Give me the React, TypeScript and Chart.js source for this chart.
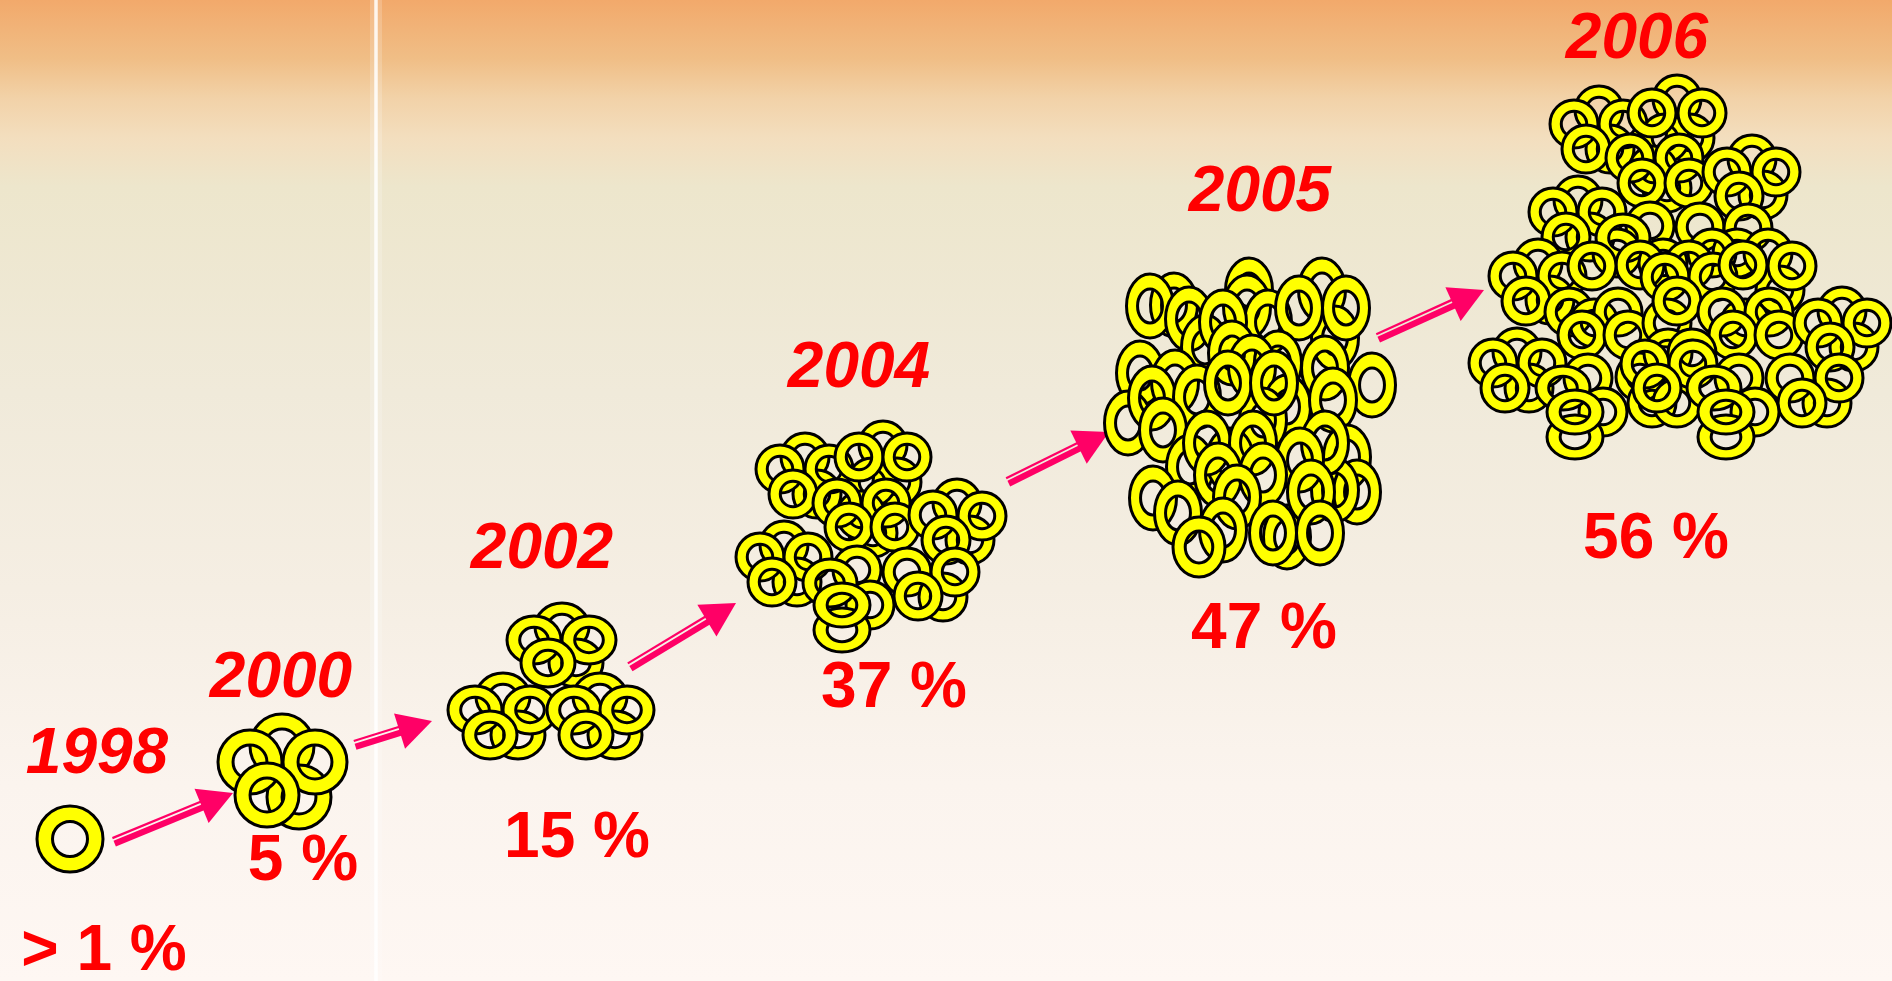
import React, { useEffect, useRef } from "react";
import { Chart, registerables } from "chart.js";

Chart.register(...registerables);

type R = number[]; // x, y, optional half-width, optional half-height

const years = ["1998", "2000", "2002", "2004", "2005", "2006"];
const yearX = [97, 281, 542, 859, 1260, 1637];
const yearY = [773, 697, 568, 387, 211, 58];
const shares = ["> 1 %", "5 %", "15 %", "37 %", "47 %", "56 %"];
const shareX = [104, 303, 577, 894, 1264, 1656];
const shareY = [970, 880, 857, 707, 648, 558];

const rings1998: R[] = [[70, 839]];
const rings2000: R[] = [[282, 746], [299, 797], [250, 762], [315, 762], [267, 795]];
const rings2002: R[] = [
  [562, 627], [576, 663], [534, 640], [589, 640], [548, 663],
  [503, 697], [518, 735], [475, 710], [530, 710], [490, 735],
  [600, 697], [615, 735], [574, 710], [627, 710], [586, 735],
];
const rings2004: R[] = [
  [805, 457], [817, 494], [780, 469], [829, 469], [793, 494],
  [883, 445], [897, 482], [872, 482], [859, 457], [907, 457],
  [873, 533], [861, 515], [837, 503], [886, 503], [849, 527], [895, 527],
  [957, 503], [970, 540], [933, 515], [982, 516], [946, 540],
  [784, 545], [797, 582], [760, 557], [808, 557], [772, 582],
  [857, 570], [907, 572], [943, 597], [955, 572], [918, 596],
  [870, 605], [830, 583, 27, 24], [842, 630, 28, 22], [842, 605, 28, 22],
];
const rings2005: R[] = [
  [1174, 305], [1249, 290], [1322, 290], [1247, 307], [1150, 306],
  [1189, 319], [1205, 347], [1268, 322], [1223, 322], [1335, 338],
  [1299, 308], [1346, 308], [1372, 385], [1140, 373], [1232, 353],
  [1278, 363], [1252, 367], [1325, 368], [1175, 382], [1128, 423],
  [1152, 398], [1197, 397], [1287, 407], [1263, 420], [1333, 400],
  [1163, 430], [1228, 383], [1274, 383], [1347, 457], [1357, 492],
  [1335, 490], [1190, 467], [1230, 460], [1207, 443], [1325, 443],
  [1300, 460], [1253, 443], [1218, 475], [1263, 475], [1153, 498],
  [1287, 537], [1237, 497], [1223, 530], [1178, 513], [1311, 492],
  [1273, 533], [1320, 533], [1199, 547, 26, 30],
];
const rings2006: R[] = [
  [1599, 110], [1610, 149], [1574, 124], [1623, 124], [1586, 149],
  [1677, 99], [1690, 138], [1665, 138], [1652, 113], [1702, 113],
  [1667, 188], [1653, 170], [1630, 158], [1679, 158], [1642, 183], [1689, 183],
  [1752, 159], [1763, 195], [1727, 172], [1776, 172], [1739, 196],
  [1578, 200], [1590, 237], [1553, 212], [1602, 212], [1566, 237],
  [1650, 226], [1700, 227], [1748, 228], [1737, 253], [1712, 253],
  [1617, 253], [1623, 238, 27, 24],
  [1538, 263], [1550, 300], [1513, 276], [1562, 276], [1526, 301],
  [1663, 263], [1689, 265], [1768, 253], [1780, 290], [1640, 265],
  [1665, 277], [1713, 277], [1743, 265], [1792, 266], [1592, 266],
  [1569, 312], [1594, 323], [1618, 312], [1582, 335], [1628, 335],
  [1667, 323], [1677, 301],
  [1745, 323], [1722, 312], [1769, 312], [1733, 335], [1779, 335],
  [1842, 311], [1854, 347], [1818, 323], [1867, 323], [1830, 347],
  [1517, 352], [1529, 388], [1493, 363], [1542, 363], [1505, 388],
  [1588, 378], [1603, 412], [1575, 437, 28, 22], [1563, 388, 27, 22], [1575, 412, 28, 22],
  [1640, 377], [1652, 403], [1677, 403], [1668, 353], [1692, 353],
  [1645, 364], [1693, 364], [1657, 388],
  [1739, 378], [1827, 403], [1790, 378], [1839, 378], [1802, 403],
  [1755, 412], [1726, 437, 28, 22], [1714, 388, 27, 22], [1726, 412, 28, 22],
];

const arrowTails = [[114, 842], [355, 745], [630, 667], [1008, 482], [1378, 338]];
const arrowTips = [[233, 793], [432, 721], [736, 603], [1109, 432], [1484, 290]];

const dividerX = [376, 376];
const dividerY = [0, 981];

const ringSets: { rows: R[]; rx: number; ry: number }[] = [
  { rows: rings1998, rx: 33, ry: 33 },
  { rows: rings2000, rx: 32, ry: 32 },
  { rows: rings2002, rx: 27, ry: 24 },
  { rows: rings2004, rx: 24, ry: 24 },
  { rows: rings2005, rx: 23.5, ry: 32 },
  { rows: rings2006, rx: 24, ry: 24 },
];

const stops: [number, string][] = [
  [0, "#F2A96B"], [0.06, "#F0BE86"], [0.1, "#F2D2A8"], [0.14, "#F3DEBE"],
  [0.19, "#EDE6CC"], [0.4, "#F0EADA"], [0.6, "#F5EEE3"], [0.8, "#FBF4EE"], [1, "#FEF7F3"],
];

const ringImages = new Map<string, HTMLCanvasElement>();
function ringImage(rx: number, ry: number) {
  const key = rx + "x" + ry;
  const hit = ringImages.get(key);
  if (hit) return hit;
  const c = document.createElement("canvas");
  c.width = Math.ceil(rx) * 2 + 6;
  c.height = Math.ceil(ry) * 2 + 6;
  const g = c.getContext("2d")!;
  const cx = c.width / 2;
  const cy = c.height / 2;
  g.beginPath();
  g.ellipse(cx, cy, rx, ry, 0, 0, Math.PI * 2);
  g.moveTo(cx + rx * 0.53, cy);
  g.ellipse(cx, cy, rx * 0.53, ry * 0.53, 0, 0, Math.PI * 2);
  g.fillStyle = "#FFFF00";
  g.fill("evenodd");
  g.lineWidth = 3;
  g.strokeStyle = "#000";
  g.stroke();
  ringImages.set(key, c);
  return c;
}

const textPlugin = {
  id: "captions",
  afterDatasetsDraw(chart: any) {
    const { ctx, scales } = chart;
    ctx.save();
    ctx.fillStyle = "#FF0000";
    ctx.textAlign = "center";
    ctx.textBaseline = "alphabetic";
    ctx.font = 'italic bold 64px "Liberation Sans"';
    years.forEach((t, i) => ctx.fillText(t, scales.x.getPixelForValue(yearX[i]), scales.y.getPixelForValue(yearY[i])));
    ctx.font = 'bold 64px "Liberation Sans"';
    shares.forEach((t, i) => ctx.fillText(t, scales.x.getPixelForValue(shareX[i]), scales.y.getPixelForValue(shareY[i])));
    ctx.restore();
  },
};

const backgroundPlugin = {
  id: "paper",
  beforeDraw(chart: any) {
    const { ctx, width, height } = chart;
    const grad = ctx.createLinearGradient(0, 0, 0, height);
    stops.forEach(([p, c]) => grad.addColorStop(p, c));
    ctx.save();
    ctx.fillStyle = grad;
    ctx.fillRect(0, 0, width, height);
    ctx.restore();
  },
};

function arrowDatasets(tail: number[], tip: number[]) {
  const dx = tip[0] - tail[0];
  const dy = tip[1] - tail[1];
  const len = Math.hypot(dx, dy);
  const ux = dx / len;
  const uy = dy / len;
  const nx = uy;
  const ny = -ux;
  const bx = tip[0] - ux * 34;
  const by = tip[1] - uy * 34;
  const at = (s: number[], off: number, back: number) => ({ x: s[0] + nx * off + ux * back, y: s[1] + ny * off + uy * back });
  const line = (off: number, width: number) => ({
    type: "line",
    data: [at(tail, off, 0), at([bx, by], off, 2)],
    borderColor: "#FF0066",
    borderWidth: width,
    pointRadius: 0,
    tension: 0,
    fill: false,
  });
  return [
    {
      type: "line",
      data: [at([bx, by], 18.5, 0), { x: tip[0], y: tip[1] }, at([bx, by], -18.5, 0), at([bx, by], 18.5, 0)],
      borderWidth: 0,
      pointRadius: 0,
      tension: 0,
      fill: "shape",
      backgroundColor: "#FF0066",
    },
    line(4.2, 2.2),
    line(-1.8, 6.2),
  ];
}

export default function App() {
  const ref = useRef<HTMLCanvasElement>(null);
  useEffect(() => {
    document.body.style.margin = "0";
    const ringDatasets = ringSets.map((s) => ({
      type: "line",
      showLine: false,
      data: s.rows.map((r) => ({ x: r[0], y: r[1], rx: r[2] ?? s.rx, ry: r[3] ?? s.ry })),
      pointRadius: 10,
      pointStyle: (c: any) => ringImage(c.raw.rx, c.raw.ry),
    }));
    const divider = (width: number, color: string) => ({
      type: "line",
      data: dividerX.map((x, i) => ({ x, y: dividerY[i] })),
      borderColor: color,
      borderWidth: width,
      pointRadius: 0,
      fill: false,
    });
    const chart = new Chart(ref.current!, {
      type: "line",
      data: {
        datasets: [
          ...ringDatasets,
          ...arrowTails.flatMap((t, i) => arrowDatasets(t, arrowTips[i])),
          divider(3.5, "rgba(255,255,255,0.85)"),
          divider(12, "rgba(255,255,255,0.18)"),
        ] as any,
      },
      options: {
        animation: false,
        responsive: false,
        events: [],
        layout: { padding: 0, autoPadding: false },
        clip: false as any,
        scales: {
          x: { type: "linear", min: 0, max: 1892, display: false },
          y: { type: "linear", min: 0, max: 981, reverse: true, display: false },
        },
        plugins: { legend: { display: false }, tooltip: { enabled: false } },
      },
      plugins: [backgroundPlugin, textPlugin],
    } as any);
    return () => chart.destroy();
  }, []);
  return <canvas ref={ref} width={1892} height={981} style={{ display: "block" }} />;
}
